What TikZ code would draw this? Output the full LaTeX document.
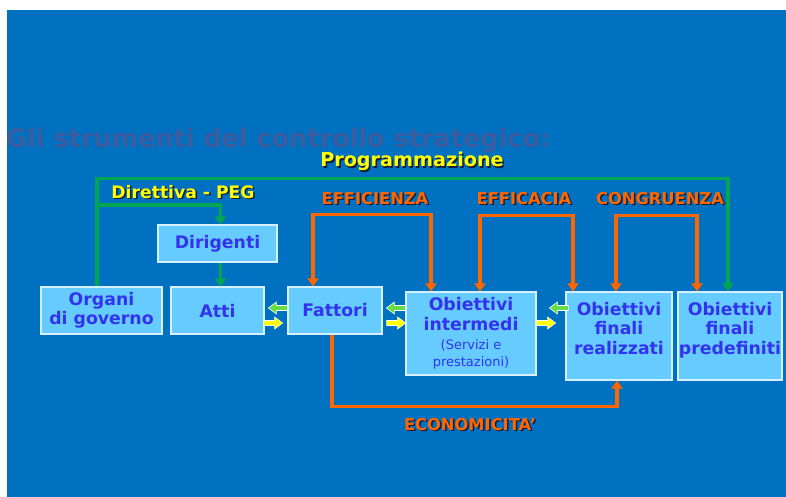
\documentclass[tikz,border=0pt]{standalone}
\usepackage{fontspec}
\setmainfont{DejaVu Sans}
\usetikzlibrary{arrows.meta}

\definecolor{bgblue}{HTML}{0070C0}
\definecolor{titleblue}{HTML}{3A5CA0}
\definecolor{boxfill}{HTML}{66CCFF}
\definecolor{boxedge}{HTML}{D6F0FF}
\definecolor{boxtext}{HTML}{3333EE}
\definecolor{flowgreen}{HTML}{00A651}
\definecolor{floworange}{HTML}{FF6600}
\definecolor{labelyellow}{HTML}{FFFF00}
\definecolor{labelshadow}{HTML}{141E3C}
\definecolor{backgreen}{HTML}{66DD44}

% fonts
\newcommand\bxfnt{\bfseries\fontsize{17.3}{19.5}\selectfont}
\newcommand\smfnt{\mdseries\fontsize{13}{15}\selectfont}
\newcommand\lbfnt{\bfseries\fontsize{16.3}{19}\selectfont}
\newcommand\pegfnt{\bfseries\fontsize{17.2}{20}\selectfont}
\newcommand\progfnt{\bfseries\fontsize{19.2}{22}\selectfont}
\newcommand\ttlfnt{\bfseries\fontsize{25.5}{30}\selectfont}

% text with a dark drop shadow
\newcommand\shadowed[2]{\makebox[0pt][l]{\hspace{1.5pt}\raisebox{-1.5pt}{\textcolor{labelshadow}{#2}}}\textcolor{#1}{#2}}
% top-aligned text block of fixed size
\newcommand\topbox[3]{\parbox[c][#2][t]{#1}{\centering\vspace*{10pt}#3}}

\tikzset{
  blockarrow/.pic={\path[pic actions] (0,-2.5) -- (11,-2.5) -- (11,-6) -- (19,0) -- (11,6) -- (11,2.5) -- (0,2.5) -- cycle;}
}

\begin{document}
\begin{tikzpicture}[x=1pt,y=-1pt,
  box/.style={draw=boxedge, line width=1.2pt, fill=boxfill, text=boxtext,
              font=\bxfnt, align=center, inner sep=0pt},
  lbl/.style={anchor=base, inner sep=0pt, font=\lbfnt},
  gline/.style={draw=flowgreen, line width=3.5pt},
  oline/.style={draw=floworange, line width=3.5pt},
  tipend/.style={-{Triangle[width=11pt,length=8pt]}},
  tipboth/.style={{Triangle[width=11pt,length=8pt]}-{Triangle[width=11pt,length=8pt]}},
  yblk/.style={fill=labelyellow, draw=white, line width=0.6pt},
  gblk/.style={fill=backgreen, draw=white, line width=0.6pt, xscale=-1}]

\useasboundingbox (0,0) rectangle (786,497);
\fill[white] (0,0) rectangle (786,497);
\fill[bgblue] (7,10) rectangle (786,497);

\node[anchor=base west, inner sep=0pt, font=\ttlfnt, text=titleblue] (title)
  at (6,148) {Gli strumenti del controllo strategico:};

% boxes
\node[box, minimum width=121, minimum height=47] (organi) at (101.5,310.5) {Organi\\di governo};
\node[box, minimum width=119, minimum height=37] (dirigenti) at (217.5,243.5) {Dirigenti};
\node[box, minimum width=93, minimum height=47] (atti) at (217.5,310.5) {Atti};
\node[box, minimum width=94, minimum height=47] (fattori) at (335,310.5) {Fattori};
\node[box, minimum width=130, minimum height=83] (intermedi) at (471,333.5)
  {Obiettivi\\intermedi\\{\smfnt (Servizi e}\\[-3pt]{\smfnt prestazioni)}};
\node[box] (realizzati) at (619,336) {\topbox{106pt}{88pt}{Obiettivi\\finali\\realizzati}};
\node[box] (predefiniti) at (730,336) {\topbox{104pt}{88pt}{Obiettivi\\finali\\predefiniti}};

% labels
\node[lbl, font=\progfnt] (prog) at (412,167) {\shadowed{labelyellow}{Programmazione}};
\node[lbl, font=\pegfnt] (peg) at (183,198) {\shadowed{labelyellow}{Direttiva - PEG}};
\node[lbl] (eff) at (375,204) {\shadowed{floworange}{EFFICIENZA}};
\node[lbl] (efc) at (524,204) {\shadowed{floworange}{EFFICACIA}};
\node[lbl] (cong) at (660,204) {\shadowed{floworange}{CONGRUENZA}};
\node[lbl] (econ) at (470,430) {\shadowed{floworange}{ECONOMICITA’}};

% green control lines
\draw[gline, tipend] ([xshift=-4.5]organi.north) -- ++(0,-108) -| ([xshift=-2]predefiniti.north);
\coordinate (dbranch) at (97,205);
\draw[gline, tipend] (dbranch) -| ([xshift=3]dirigenti.north);
\draw[gline, tipend] ([xshift=3]dirigenti.south) -- ([xshift=3]atti.north);

% orange measures
\draw[oline, tipboth] ([xshift=-22]fattori.north) -- ++(0,-72) -| ([xshift=-40]intermedi.north);
\draw[oline, tipboth] ([xshift=9]intermedi.north) -- ++(0,-76) -| ([xshift=-46]realizzati.north);
\draw[oline, tipboth] ([xshift=-3]realizzati.north) -- ++(0,-76) -| ([xshift=-33]predefiniti.north);
\draw[oline, tipend] ([xshift=-3]fattori.south) -- ++(0,72) -| ([xshift=-2]realizzati.south);

% forward and feedback block arrows
\coordinate (fwd) at (0,323);
\coordinate (bwd) at (0,308);
\pic[yblk, xshift=-1pt] at (atti.east |- fwd) {blockarrow};
\pic[gblk] at (fattori.west |- bwd) {blockarrow};
\pic[yblk, xshift=4pt] at (fattori.east |- fwd) {blockarrow};
\pic[gblk] at (intermedi.west |- bwd) {blockarrow};
\pic[yblk] at (intermedi.east |- fwd) {blockarrow};
\pic[gblk, xshift=-3pt] at (realizzati.west |- bwd) {blockarrow};
\end{tikzpicture}
\end{document}
